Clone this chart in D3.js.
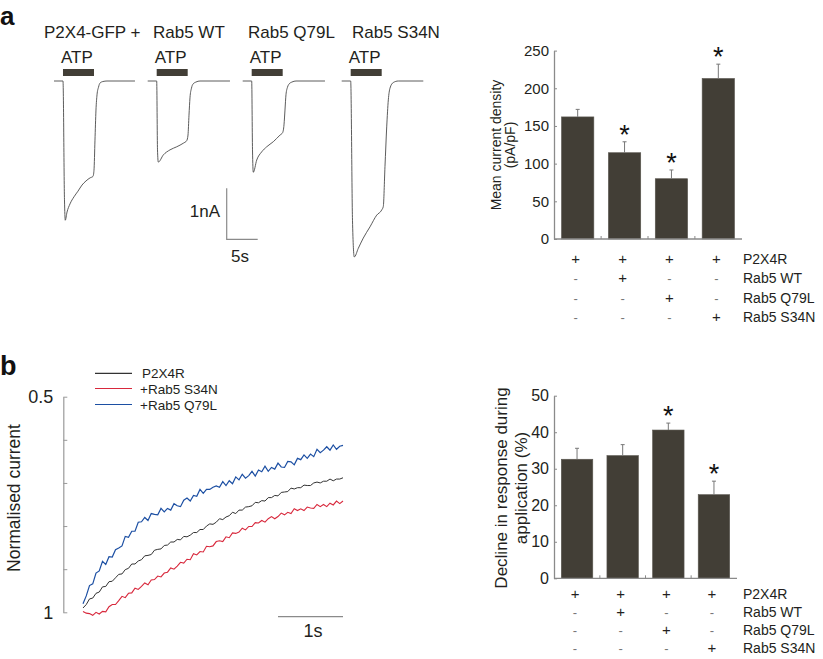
<!DOCTYPE html>
<html><head><meta charset="utf-8">
<script src="https://cdn.jsdelivr.net/npm/d3@7"></script>
<style>body{margin:0;background:#fff}svg{display:block;font-family:"Liberation Sans",Arial,sans-serif}</style>
</head><body>
<script>
// ---------- Panel a: current traces (time in s, current in nA) ----------
const traceLabels = ["P2X4-GFP +", "Rab5 WT", "Rab5 Q79L", "Rab5 S34N"];
const p2x4Time    = [0, 1.45, 1.69, 1.82, 2.10, 2.58, 3.23, 3.87, 4.52, 5.16, 5.81, 6.29, 6.45, 6.61, 6.77, 6.94, 7.18, 7.42, 7.90, 8.55, 13.06];
const p2x4Current = [0, 0, -2.33, -2.73, -2.57, -2.41, -2.27, -2.16, -2.04, -1.96, -1.90, -1.87, -1.75, -1.16, -0.57, -0.27, -0.12, -0.04, -0.01, 0, 0];
const wtTime      = [0, 1.45, 1.58, 1.71, 2.52, 3.60, 4.68, 5.74, 6.29, 6.50, 6.66, 6.82, 7.06, 7.31, 7.79, 8.44, 13.27];
const wtCurrent   = [0, 0, -1.35, -1.59, -1.45, -1.35, -1.29, -1.22, -1.17, -1.06, -0.67, -0.33, -0.14, -0.06, -0.02, 0, 0];
const q79lTime    = [0, 1.45, 1.58, 1.71, 2.26, 3.06, 3.87, 4.94, 6.02, 6.45, 6.66, 6.82, 6.98, 7.23, 7.47, 7.95, 8.60, 13.27];
const q79lCurrent = [0, 0, -1.35, -1.79, -1.55, -1.39, -1.29, -1.19, -1.06, -1.01, -0.86, -0.57, -0.27, -0.12, -0.06, -0.02, 0, 0];
const s34nTime    = [0, 1.45, 1.74, 2.03, 2.68, 3.48, 4.56, 5.65, 6.45, 6.71, 6.98, 7.26, 7.52, 7.79, 8.32, 9.13, 13.16];
const s34nCurrent = [0, 0, -2.73, -3.45, -3.28, -3.08, -2.86, -2.63, -2.53, -2.46, -1.68, -0.90, -0.37, -0.14, -0.03, 0, 0];
const atpStart = 1.45, atpDuration = 5;
const scaleBarCurrent = 1, scaleBarTime = 5;

// ---------- Panel a: bar chart ----------
const groups = ["g1", "g2", "g3", "g4"];
const densityMean = [162, 114.5, 80, 213];
const densityErr  = [10, 14.5, 11.6, 19];
const densitySig  = [false, true, true, true];
const densityTicks = [0, 50, 100, 150, 200, 250];

// ---------- Panel b: normalised current (sampled every 0.05 s, 0–4 s) ----------
const sampleStep = 0.05;
const legendLabels = ["P2X4R", "+Rab5 S34N", "+Rab5 Q79L"];
const normP2X4 = [0.990,0.982,0.969,0.967,0.956,0.953,0.941,0.940,0.929,0.928,
0.920,0.912,0.911,0.901,0.898,0.888,0.888,0.881,0.878,0.869,
0.868,0.866,0.856,0.854,0.853,0.845,0.844,0.837,0.837,0.831,
0.832,0.824,0.825,0.821,0.815,0.815,0.808,0.808,0.800,0.795,
0.796,0.791,0.783,0.785,0.779,0.776,0.768,0.771,0.763,0.763,
0.756,0.755,0.753,0.745,0.746,0.741,0.742,0.734,0.734,0.729,
0.730,0.722,0.721,0.720,0.712,0.714,0.711,0.711,0.705,0.706,
0.706,0.700,0.698,0.700,0.696,0.696,0.691,0.695,0.691,0.691,0.688];
const normS34N = [0.998,1.002,1.003,1.007,1.000,1.004,0.998,0.999,0.987,0.982,
0.982,0.973,0.963,0.966,0.956,0.955,0.944,0.947,0.940,0.932,
0.936,0.925,0.924,0.916,0.918,0.909,0.907,0.897,0.900,0.893,
0.884,0.886,0.877,0.878,0.864,0.867,0.859,0.860,0.847,0.848,
0.846,0.836,0.834,0.836,0.825,0.827,0.816,0.817,0.814,0.805,
0.809,0.801,0.801,0.792,0.793,0.787,0.791,0.783,0.778,0.783,
0.778,0.770,0.774,0.768,0.771,0.760,0.764,0.760,0.764,0.756,
0.758,0.759,0.750,0.755,0.750,0.755,0.747,0.751,0.742,0.748,0.742];
const normQ79L = [0.980,0.962,0.938,0.934,0.909,0.904,0.882,0.889,0.871,0.872,
0.855,0.851,0.846,0.824,0.826,0.812,0.812,0.791,0.790,0.780,
0.787,0.771,0.773,0.774,0.759,0.767,0.759,0.763,0.748,0.753,
0.755,0.740,0.735,0.742,0.729,0.731,0.715,0.724,0.715,0.715,
0.710,0.707,0.710,0.697,0.706,0.695,0.702,0.686,0.693,0.680,
0.689,0.683,0.673,0.684,0.670,0.674,0.661,0.673,0.664,0.668,
0.654,0.663,0.664,0.650,0.651,0.658,0.643,0.646,0.635,0.643,
0.633,0.639,0.622,0.630,0.624,0.616,0.624,0.612,0.622,0.615,0.613];
const normTicks = [0.5, 0.6, 0.7, 0.8, 0.9, 1.0];

// ---------- Panel b: bar chart ----------
const declineMean = [32.6, 33.6, 40.6, 22.9];
const declineErr  = [3.0, 3.0, 1.9, 3.7];
const declineSig  = [false, false, true, true];
const declineTicks = [0, 10, 20, 30, 40, 50];

// ---------- condition table ----------
const rowLabels = ["P2X4R", "Rab5 WT", "Rab5 Q79L", "Rab5 S34N"];
const tableMarks = [["+","+","+","+"],["-","+","-","-"],["-","-","+","-"],["-","-","-","+"]];

// =====================================================================
const W = 823, H = 659;
const svg = d3.select("body").append("svg").attr("width", W).attr("height", H);
svg.append("rect").attr("width", W).attr("height", H).attr("fill", "#fff");
const TXT = "#231f20", BAR = "#423e36", AX = "#8a8a8a";

// panel letters
svg.append("text").attr("x", 0).attr("y", 25).attr("font-size", 26).attr("font-weight", "bold").attr("fill", "#111").text("a");
svg.append("text").attr("x", 0).attr("y", 375).attr("font-size", 27).attr("font-weight", "bold").attr("fill", "#111").text("b");

// ----- traces -----
const traces = [
  {t: p2x4Time, i: p2x4Current, x0: 54,    hx: 44},
  {t: wtTime,   i: wtCurrent,   x0: 147.7, hx: 153},
  {t: q79lTime, i: q79lCurrent, x0: 242.7, hx: 248},
  {t: s34nTime, i: s34nCurrent, x0: 341.7, hx: 352}
];
const pxPerSec = 6.2, pxPerNA = 51, baseY = 81;
const yI = d3.scaleLinear().domain([0, -1]).range([baseY, baseY + pxPerNA]);
traces.forEach((tr, k) => {
  const x = d3.scaleLinear().domain([0, 1]).range([tr.x0, tr.x0 + pxPerSec]);
  const pts = tr.t.map((t, j) => [t, tr.i[j]]);
  svg.append("path").attr("d", d3.line().x(d => x(d[0])).y(d => yI(d[1])).curve(d3.curveMonotoneX)(pts))
    .attr("fill", "none").attr("stroke", "#4a4a4a").attr("stroke-width", 0.9);
  svg.append("rect").attr("x", x(atpStart)).attr("y", 69).attr("width", x(atpStart + atpDuration) - x(atpStart)).attr("height", 7).attr("fill", BAR);
  svg.append("text").attr("x", x(atpStart) - 2).attr("y", 63).attr("font-size", 17).attr("fill", TXT).text("ATP");
  svg.append("text").attr("x", tr.hx).attr("y", 38).attr("font-size", 17).attr("fill", TXT).text(traceLabels[k]);
});
// scale bar
{
  const sx = d3.scaleLinear().domain([0, 1]).range([226.7, 226.7 + pxPerSec]);
  const sy = d3.scaleLinear().domain([0, 1]).range([239.3, 239.3 - pxPerNA]);
  svg.append("path").attr("d", `M${sx(0)},${sy(scaleBarCurrent)}V${sy(0)}H${sx(scaleBarTime)}`)
    .attr("fill", "none").attr("stroke", AX).attr("stroke-width", 1.2);
  svg.append("text").attr("x", 220).attr("y", 216.7).attr("text-anchor", "end").attr("font-size", 17).attr("fill", TXT).text("1nA");
  svg.append("text").attr("x", 231).attr("y", 262).attr("font-size", 17).attr("fill", TXT).text("5s");
}

// ----- bar charts -----
function barChart(opt) {
  const x = d3.scaleBand().domain(groups).range([554, opt.xEnd]).paddingInner(0.31).paddingOuter(0.16);
  const y = d3.scaleLinear().domain([opt.ticks[0], opt.ticks[opt.ticks.length - 1]]).range([opt.y0, opt.yTop]);
  const g = svg.append("g");
  g.selectAll("rect.bar").data(groups).join("rect").attr("class", "bar")
    .attr("x", d => x(d)).attr("width", x.bandwidth())
    .attr("y", (d, i) => y(opt.mean[i])).attr("height", (d, i) => y(0) - y(opt.mean[i]))
    .attr("fill", BAR).attr("stroke", "#5a5750").attr("stroke-width", 0.6);
  groups.forEach((d, i) => {
    const cx = x(d) + x.bandwidth() / 2, top = y(opt.mean[i] + opt.err[i]);
    g.append("path").attr("d", `M${cx},${y(opt.mean[i])}V${top}M${cx - 2},${top}H${cx + 2}`)
      .attr("stroke", "#777").attr("stroke-width", 1).attr("fill", "none");
    if (opt.sig[i]) g.append("text").attr("x", cx).attr("y", top + 2).attr("text-anchor", "middle")
      .attr("font-size", 27).attr("fill", "#111").text("*");
  });
  const ax = g.append("g").attr("transform", "translate(554,0)")
    .call(d3.axisLeft(y).tickValues(opt.ticks).tickSizeInner(-3).tickSizeOuter(0).tickPadding(opt.pad));
  ax.select(".domain").attr("stroke", AX).attr("stroke-width", 1.3);
  ax.selectAll(".tick line").attr("stroke", AX);
  ax.selectAll(".tick text").attr("font-size", opt.fs).attr("fill", TXT).attr("font-family", "Liberation Sans, Arial, sans-serif");
  g.append("line").attr("x1", 554).attr("x2", opt.xEnd).attr("y1", y(0)).attr("y2", y(0)).attr("stroke", AX).attr("stroke-width", 1.3);
  for (let k = 1; k < groups.length; k++) {
    const bx = (x(groups[k - 1]) + x.bandwidth() + x(groups[k])) / 2;
    g.append("line").attr("x1", bx).attr("x2", bx).attr("y1", y(0)).attr("y2", y(0) - 3).attr("stroke", AX);
  }
  opt.label.forEach((s, k) => {
    g.append("text").attr("transform", `translate(${opt.labelX[k]},${opt.labelY}) rotate(-90)`)
      .attr("text-anchor", "middle").attr("font-size", opt.labelFs).attr("fill", TXT).text(s);
  });
  rowLabels.forEach((lab, r) => {
    const ry = opt.tableY + r * opt.rowH;
    g.append("text").attr("x", 743).attr("y", ry).attr("font-size", opt.tfs).attr("fill", TXT).text(lab);
    tableMarks[r].forEach((m, c) => {
      const cx = x(groups[c]) + x.bandwidth() / 2 - 2;
      g.append("text").attr("x", cx).attr("y", ry).attr("text-anchor", "middle")
        .attr("font-size", m === "+" ? opt.tfs + 1 : opt.tfs - 1).attr("fill", m === "+" ? TXT : "#777").text(m);
    });
  });
}
barChart({ticks: densityTicks, mean: densityMean, err: densityErr, sig: densitySig, xEnd: 742,
  y0: 239, yTop: 50.6, pad: 5, fs: 15, label: ["Mean current density", "(pA/pF)"], labelX: [501, 515], labelY: 145,
  labelFs: 14, tableY: 264, rowH: 19.3, tfs: 14});
barChart({ticks: declineTicks, mean: declineMean, err: declineErr, sig: declineSig, xEnd: 737,
  y0: 578.3, yTop: 395.7, pad: 5, fs: 16, label: ["Decline in response during", "application (%)"], labelX: [507, 527], labelY: 488,
  labelFs: 17, tableY: 599, rowH: 18, tfs: 14});

// ----- panel b traces -----
{
  const xT = d3.scaleLinear().domain([0, 4]).range([83, 343]);
  const yN = d3.scaleLinear().domain([1, 0.5]).range([612.3, 396.7]);
  const ax = svg.append("g").attr("transform", "translate(63.3,0)")
    .call(d3.axisLeft(yN).tickValues(normTicks).tickSizeInner(-4).tickSizeOuter(0).tickPadding(10)
      .tickFormat(d => (d === 0.5 ? "0.5" : d === 1 ? "1" : "")));
  ax.select(".domain").attr("stroke", "#9a9a9a").attr("stroke-width", 1.2);
  ax.selectAll(".tick line").attr("stroke", "#9a9a9a");
  ax.selectAll(".tick text").attr("font-size", 18).attr("fill", TXT).attr("font-family", "Liberation Sans, Arial, sans-serif");
  svg.append("text").attr("transform", "translate(20,498) rotate(-90)").attr("text-anchor", "middle")
    .attr("font-size", 17.5).attr("fill", TXT).text("Normalised current");
  const series = [
    {v: normP2X4, c: "#333333", w: 1},
    {v: normS34N, c: "#d8283c", w: 1.1},
    {v: normQ79L, c: "#1c4fa3", w: 1.2}
  ];
  const line = d3.line().x((d, i) => xT(i * sampleStep)).y(d => yN(d));
  series.forEach(s => svg.append("path").attr("d", line(s.v)).attr("fill", "none").attr("stroke", s.c).attr("stroke-width", s.w));
  const ly = [373.3, 388.5, 404.5];
  series.forEach((s, k) => {
    svg.append("line").attr("x1", 95).attr("x2", 132).attr("y1", ly[k]).attr("y2", ly[k]).attr("stroke", s.c).attr("stroke-width", 1.2);
    svg.append("text").attr("x", k === 0 ? 142 : 140).attr("y", ly[k] + 5).attr("font-size", 13.5).attr("fill", TXT).text(legendLabels[k]);
  });
  svg.append("line").attr("x1", xT(3)).attr("x2", xT(4)).attr("y1", 616.7).attr("y2", 616.7).attr("stroke", AX).attr("stroke-width", 1.2);
  svg.append("text").attr("x", 313).attr("y", 637).attr("text-anchor", "middle").attr("font-size", 18).attr("fill", TXT).text("1s");
}
</script>
</body></html>
